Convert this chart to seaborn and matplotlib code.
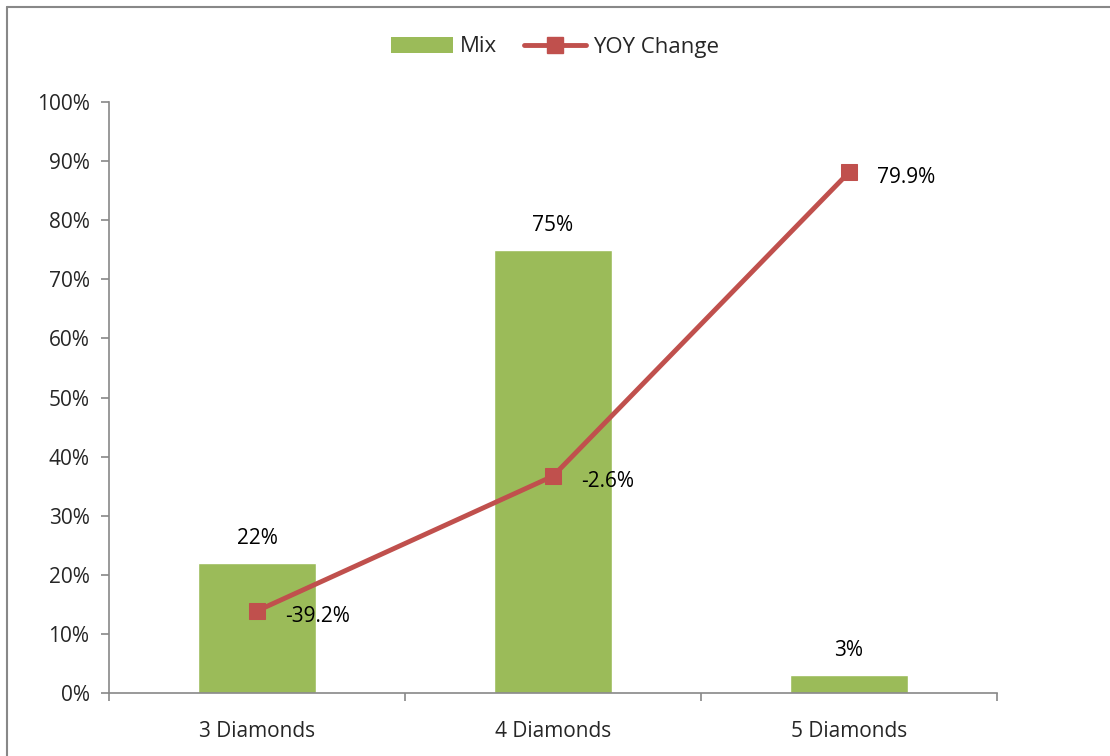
import pandas as pd
import matplotlib.pyplot as plt
import seaborn as sns
from matplotlib.lines import Line2D
from matplotlib.patches import Patch
from matplotlib.ticker import PercentFormatter, FixedLocator

# Dati
categories = ["3 Diamonds", "4 Diamonds", "5 Diamonds"]
mix = [22, 75, 3]
yoy_change = [-39.2, -2.6, 79.9]
mix_labels = ["22%", "75%", "3%"]
yoy_labels = ["-39.2%", "-2.6%", "79.9%"]

GREEN = "#9BBB59"
RED = "#C0504D"
GREY = "#888888"

df = pd.DataFrame({"Category": categories, "Mix": mix, "YOY": yoy_change})

sns.set_theme(style="white")
plt.rcParams["font.family"] = ["Open Sans", "DejaVu Sans"]
FS = 15

fig = plt.figure(figsize=(11.1, 7.56), dpi=100)
ax = fig.add_axes([109 / 1110, 1 - 693 / 756, 888 / 1110, 591 / 756])

# Barre Mix
sns.barplot(data=df, x="Category", y="Mix", color=GREEN, width=0.4,
            saturation=1, ax=ax)
ax.set_ylim(0, 100)
ax.set_xlim(-0.5, 2.5)
ax.yaxis.set_major_formatter(PercentFormatter(decimals=0))
ax.set_yticks(range(0, 101, 10))
ax.set_xlabel("")
ax.set_ylabel("")

for i, lab in enumerate(mix_labels):
    ax.annotate(lab, (i, mix[i]), xytext=(0, 10), textcoords="offset points",
                ha="center", va="bottom", fontsize=FS, color="black")

# Linea YOY su asse secondario nascosto
ax2 = ax.twinx()
sns.lineplot(data=df, x="Category", y="YOY", color=RED, linewidth=3.5,
             marker="s", markersize=12, markeredgecolor=RED, ax=ax2,
             sort=False)
ax2.set_ylim(-61.5, 99)
ax2.set_xlim(-0.5, 2.5)
ax2.axis("off")

for i, lab in enumerate(yoy_labels):
    ax2.annotate(lab, (i, yoy_change[i]), xytext=(20, -4), textcoords="offset points",
                 ha="left", va="center", fontsize=FS, color="black")

# Assi
for side in ["top", "right"]:
    ax.spines[side].set_visible(False)
for side in ["left", "bottom"]:
    ax.spines[side].set_color(GREY)
    ax.spines[side].set_linewidth(1.2)
ax.tick_params(axis="y", direction="out", length=6, color=GREY, width=1.2,
               left=True, labelsize=FS, pad=8)
ax.tick_params(axis="x", which="major", length=0, labelsize=FS, pad=20)
ax.xaxis.set_minor_locator(FixedLocator([-0.5, 0.5, 1.5, 2.5]))
ax.tick_params(axis="x", which="minor", direction="out", length=6,
               color=GREY, width=1.2, bottom=True)

# Legenda
handles = [
    Patch(facecolor=GREEN, edgecolor="none", label="Mix"),
    Line2D([0], [0], color=RED, linewidth=3.5, marker="s", markersize=12,
           label="YOY Change"),
]
fig.legend(handles=handles, loc="center", bbox_to_anchor=(0.5, 1 - 47 / 756),
           ncol=2, frameon=False, fontsize=FS + 1, handlelength=2.8,
           columnspacing=1.2, handletextpad=0.3)

# Bordo del grafico
fig.add_artist(Line2D([7 / 1110, 7 / 1110], [0, 1 - 7 / 756], color=GREY,
                      linewidth=1.5, transform=fig.transFigure))
fig.add_artist(Line2D([7 / 1110, 1], [1 - 7 / 756, 1 - 7 / 756], color=GREY,
                      linewidth=1.5, transform=fig.transFigure))

fig.savefig("out.png", dpi=100)
